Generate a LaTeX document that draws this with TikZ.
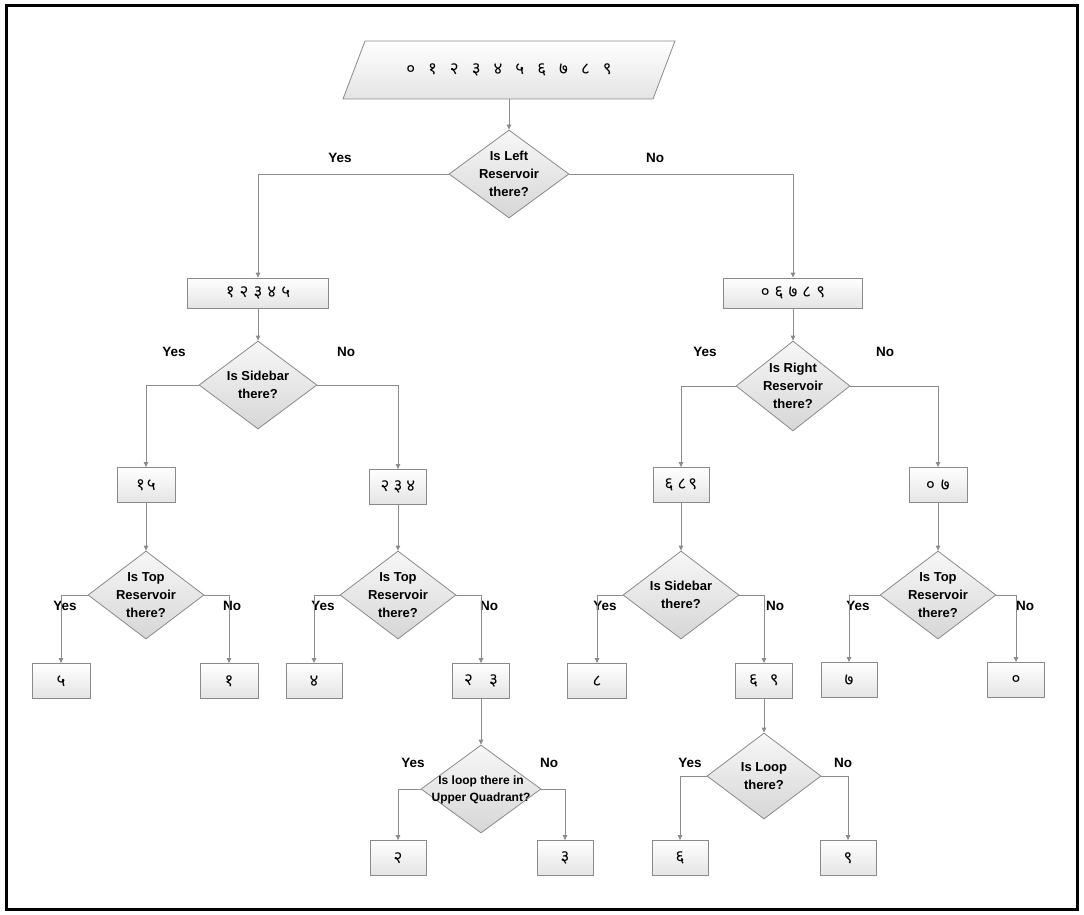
\documentclass[tikz,border=0pt]{standalone}
\usepackage{fontspec}
\setmainfont{Liberation Sans}
\newfontfamily\deva[Script=Devanagari]{Noto Sans}
\usetikzlibrary{shapes.geometric,arrows.meta}

\definecolor{edgegray}{HTML}{8A8A8A}
\definecolor{linkgray}{HTML}{8C8C8C}
\definecolor{boxlow}{HTML}{E4E4E4}
\definecolor{dialow}{HTML}{D6D6D6}

% question text: takes no room, so the diamond size comes from its options only
\newcommand\qtext[1]{\smash{\makebox[0pt]{\raisebox{-0.3em}{\begin{tabular}{@{}c@{}}#1\end{tabular}}}}}

\begin{document}
\begin{tikzpicture}[x=1pt,y=-1pt,
  digitbox/.style={draw=edgegray, line width=0.8pt, top color=white, bottom color=boxlow,
    minimum width=57pt, minimum height=35pt, inner sep=0pt,
    font=\deva\fontsize{17}{17}\selectfont},
  decision/.style={diamond, draw=edgegray, line width=0.8pt, top color=gray!6, bottom color=dialow,
    minimum width=120pt, minimum height=88pt, inner sep=0pt,
    font=\bfseries\fontsize{13}{18}\selectfont},
  link/.style={draw=linkgray, line width=0.8pt, -{Triangle[length=5pt,width=4.5pt]}},
  answer/.style={font=\bfseries\fontsize{13.5}{14}\selectfont, inner sep=0pt}
]
\useasboundingbox (0,0) rectangle (1084,915);
\draw[line width=3pt] (6.5,5.5) rectangle (1077.5,909.5);

% input set
\shadedraw[draw=edgegray, line width=0.8pt, top color=white, bottom color=boxlow]
  (365,41) -- (675,41) -- (653,99) -- (343,99) -- cycle;
\node[minimum height=58pt, inner sep=0pt, font=\deva\fontsize{17}{17}\selectfont] (in) at (509,70)
  {०\hspace{13pt}१\hspace{13pt}२\hspace{13pt}३\hspace{13pt}४\hspace{13pt}५\hspace{13pt}६\hspace{13pt}७\hspace{13pt}८\hspace{13pt}९};

% level 1
\node[decision] (d1) at (509,174) {\qtext{Is Left\\Reservoir\\there?}};
\node[answer] (y1) at (340,158) {Yes};
\node[answer] (n1) at (655,158) {No};

% level 2
\node[digitbox, minimum width=141pt, minimum height=30pt] (b1) at (258,293) {१\hspace{5pt}२\hspace{5pt}३\hspace{5pt}४\hspace{5pt}५};
\node[digitbox, minimum width=139pt, minimum height=30pt] (b2) at (793,293) {०\hspace{5pt}६\hspace{5pt}७\hspace{5pt}८\hspace{5pt}९};
\node[decision, minimum width=118pt] (d2) at (258,385) {\qtext{Is Sidebar\\there?}};
\node[decision, minimum width=114pt, minimum height=90pt] (d3) at (793,386) {\qtext{Is Right\\Reservoir\\there?}};
\node[answer] (y2) at (174,352) {Yes};
\node[answer] (n2) at (346,352) {No};
\node[answer] (y3) at (705,352) {Yes};
\node[answer] (n3) at (885,352) {No};

% level 3
\node[digitbox, minimum width=58pt] (b3) at (146,485) {१\hspace{2pt}५};
\node[digitbox] (b4) at (398,487) {२\hspace{4pt}३\hspace{4pt}४};
\node[digitbox, minimum width=56pt] (b5) at (681,485) {६\hspace{4pt}८\hspace{2pt}९};
\node[digitbox, minimum width=58pt] (b6) at (938,485) {०\hspace{6pt}७};
\node[decision, minimum width=116pt] (d4) at (146,595) {\qtext{Is Top\\Reservoir\\there?}};
\node[decision, minimum width=116pt] (d5) at (398,595) {\qtext{Is Top\\Reservoir\\there?}};
\node[decision, minimum width=116pt] (d6) at (681,595) {\qtext{Is Sidebar\\there?}};
\node[decision, minimum width=116pt] (d7) at (938,595) {\qtext{Is Top\\Reservoir\\there?}};
\node[answer] (y4) at (65,606) {Yes};
\node[answer] (n4) at (232,606) {No};
\node[answer] (y5) at (323,606) {Yes};
\node[answer] (n5) at (489,606) {No};
\node[answer] (y6) at (605,606) {Yes};
\node[answer] (n6) at (775,606) {No};
\node[answer] (y7) at (858,606) {Yes};
\node[answer] (n7) at (1025,606) {No};

% level 4
\node[digitbox, minimum width=58pt] (b7) at (61,681) {५};
\node[digitbox, minimum width=58pt] (b8) at (229,681) {१};
\node[digitbox, minimum width=56pt] (b9) at (314,681) {४};
\node[digitbox] (b10) at (481,681) {२\hspace{16pt}३};
\node[digitbox, minimum width=59pt] (b11) at (597,681) {८};
\node[digitbox] (b12) at (764,681) {६\hspace{12pt}९};
\node[digitbox, minimum width=56pt] (b13) at (849,680) {७};
\node[digitbox] (b14) at (1016,680) {०};
\node[decision, font=\bfseries\fontsize{12}{17}\selectfont] (d8) at (481,789) {\qtext{Is loop there in\\Upper Quadrant?}};
\node[decision, minimum width=114pt, minimum height=86pt] (d9) at (764,776) {\qtext{Is Loop\\there?}};
\node[answer] (y8) at (413,763) {Yes};
\node[answer] (n8) at (549,763) {No};
\node[answer] (y9) at (690,763) {Yes};
\node[answer] (n9) at (843,763) {No};

% leaves
\node[digitbox, minimum width=56pt] (b15) at (398,858) {२};
\node[digitbox, minimum width=56pt] (b16) at (565,858) {३};
\node[digitbox, minimum width=56pt] (b17) at (680,858) {६};
\node[digitbox, minimum width=56pt] (b18) at (848,858) {९};

% connectors
\draw[link] (in.south) -- (d1.north);
\draw[link] (d1.west) -| (b1.north);
\draw[link] (d1.east) -| (b2.north);
\draw[link] (b1.south) -- (d2.north);
\draw[link] (b2.south) -- (d3.north);
\draw[link] (d2.west) -| (b3.north);
\draw[link] (d2.east) -| (b4.north);
\draw[link] (d3.west) -| (b5.north);
\draw[link] (d3.east) -| (b6.north);
\draw[link] (b3.south) -- (d4.north);
\draw[link] (b4.south) -- (d5.north);
\draw[link] (b5.south) -- (d6.north);
\draw[link] (b6.south) -- (d7.north);
\draw[link] (d4.west) -| (b7.north);
\draw[link] (d4.east) -| (b8.north);
\draw[link] (d5.west) -| (b9.north);
\draw[link] (d5.east) -| (b10.north);
\draw[link] (d6.west) -| (b11.north);
\draw[link] (d6.east) -| (b12.north);
\draw[link] (d7.west) -| (b13.north);
\draw[link] (d7.east) -| (b14.north);
\draw[link] (b10.south) -- (d8.north);
\draw[link] (b12.south) -- (d9.north);
\draw[link] (d8.west) -| (b15.north);
\draw[link] (d8.east) -| (b16.north);
\draw[link] (d9.west) -| (b17.north);
\draw[link] (d9.east) -| (b18.north);
\end{tikzpicture}
\end{document}
